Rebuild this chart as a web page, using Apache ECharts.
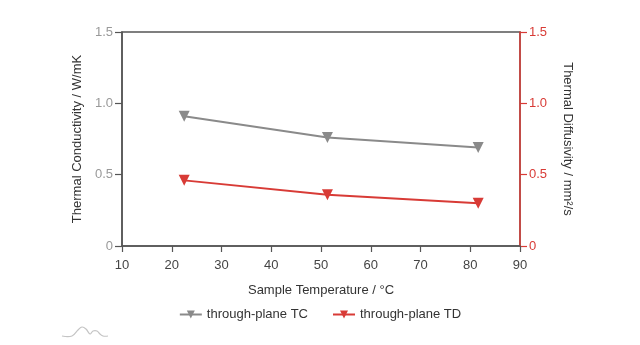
<!DOCTYPE html>
<html>
<head>
<meta charset="utf-8">
<script src="https://cdn.jsdelivr.net/npm/echarts@6/dist/echarts.min.js"></script>
<style>
  html, body { margin: 0; padding: 0; background: #fff; }
  #chart { width: 640px; height: 345px; }
</style>
</head>
<body>
<div id="chart"></div>
<script>
// Measured temperatures (°C) and properties
const temperatures = [22.5, 51.3, 81.6];
const conductivityTC = [0.91, 0.76, 0.69];   // W/mK
const diffusivityTD = [0.46, 0.36, 0.30];    // mm²/s
const seriesNames = ['through-plane TC', 'through-plane TD'];
const xTicks = [10, 20, 30, 40, 50, 60, 70, 80, 90];

const GRAY = '#8a8a8a';
const RED = '#d83b36';
const FONT = 'Liberation Sans, Arial, Helvetica, sans-serif';

const chart = echarts.init(document.getElementById('chart'));

chart.setOption({
  animation: false,
  textStyle: { fontFamily: FONT },
  grid: {
    left: 122, right: 120, top: 32, bottom: 99,
    show: true, borderColor: '#555', borderWidth: 1.5, backgroundColor: 'transparent'
  },
  legend: {
    data: seriesNames,
    bottom: 19,
    left: 'center',
    itemGap: 24,
    itemWidth: 22,
    itemHeight: 10,
    textStyle: { fontFamily: FONT, fontSize: 13, color: '#333' }
  },
  xAxis: {
    type: 'value',
    min: xTicks[0],
    max: xTicks[xTicks.length - 1],
    interval: 10,
    name: 'Sample Temperature / °C',
    nameLocation: 'middle',
    nameGap: 38,
    nameTextStyle: { fontSize: 13, color: '#333' },
    axisLine: { lineStyle: { color: '#555', width: 1.5 } },
    axisTick: { show: true, inside: false, length: 6, lineStyle: { color: '#555', width: 1.2 } },
    axisLabel: { fontSize: 13, color: '#444', margin: 13 },
    splitLine: { show: false }
  },
  yAxis: [
    {
      type: 'value',
      position: 'left',
      min: 0, max: 1.5, interval: 0.5,
      name: 'Thermal Conductivity / W/mK',
      nameLocation: 'middle',
      nameGap: 37,
      nameTextStyle: { fontSize: 13, color: '#333' },
      axisLine: { show: true, lineStyle: { color: '#555', width: 1.5 } },
      axisTick: { show: true, inside: false, length: 7, lineStyle: { color: '#555', width: 1.2 } },
      axisLabel: {
        fontSize: 13, color: '#999', margin: 9,
        formatter: v => (v === 0 ? '0' : v.toFixed(1))
      },
      splitLine: { show: false }
    },
    {
      type: 'value',
      position: 'right',
      min: 0, max: 1.5, interval: 0.5,
      name: 'Thermal Diffusivity / mm²/s',
      nameLocation: 'middle',
      nameRotate: -90,
      nameGap: 41,
      nameTextStyle: { fontSize: 13, color: '#333' },
      axisLine: { show: true, lineStyle: { color: RED, width: 1.5 } },
      axisTick: { show: true, inside: false, length: 7, lineStyle: { color: RED, width: 1.2 } },
      axisLabel: {
        fontSize: 13, color: RED, margin: 9,
        formatter: v => (v === 0 ? '0' : v.toFixed(1))
      },
      splitLine: { show: false }
    }
  ],
  series: [
    {
      name: seriesNames[0],
      type: 'line',
      yAxisIndex: 0,
      data: temperatures.map((t, i) => [t, conductivityTC[i]]),
      symbol: 'triangle',
      symbolRotate: 180,
      symbolSize: 11,
      itemStyle: { color: GRAY },
      lineStyle: { color: GRAY, width: 2 }
    },
    {
      name: seriesNames[1],
      type: 'line',
      yAxisIndex: 1,
      data: temperatures.map((t, i) => [t, diffusivityTD[i]]),
      symbol: 'triangle',
      symbolRotate: 180,
      symbolSize: 11,
      itemStyle: { color: RED },
      lineStyle: { color: RED, width: 2 }
    }
  ],
  graphic: [
    {
      // small mountain-shaped emblem in the lower left corner
      type: 'polyline',
      shape: {
        points: [[62, 336], [72, 336], [78, 330], [82, 327], [86, 329], [90, 334], [93, 331], [97, 331], [100, 334], [103, 336], [108, 336]],
        smooth: 0.4
      },
      style: { stroke: '#c4c4c4', lineWidth: 1.2, fill: null }
    }
  ]
});
</script>
</body>
</html>
